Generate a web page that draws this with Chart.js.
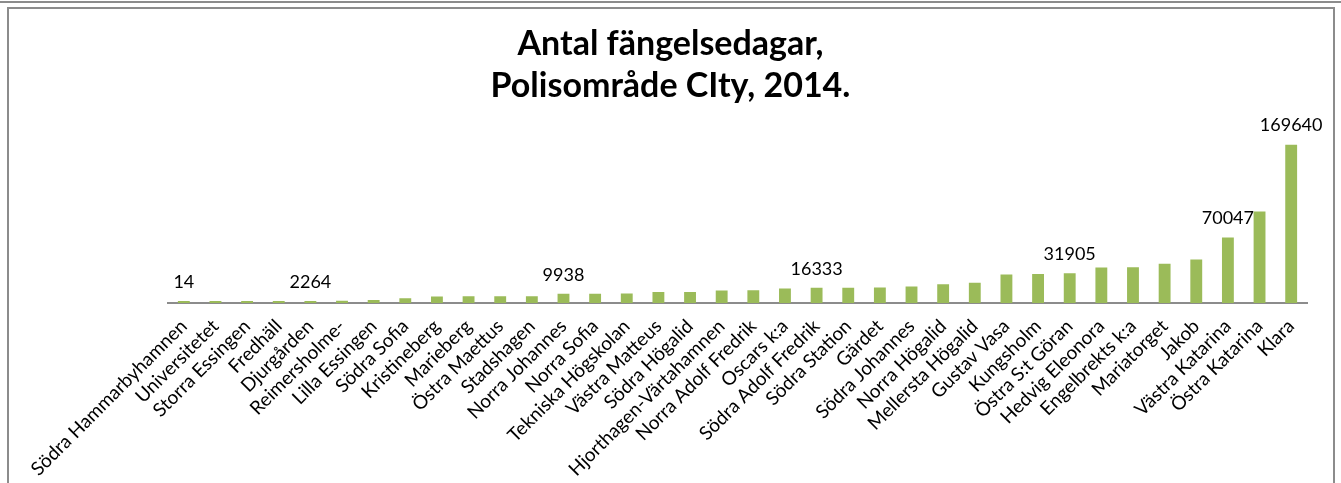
<!DOCTYPE html>
<html>
<head>
<meta charset="utf-8">
<script src="https://cdn.jsdelivr.net/npm/chart.js@4"></script>
<style>
body{margin:0;background:#fff;overflow:hidden;}
#wrap{position:relative;width:1341px;height:483px;}
#c{position:absolute;left:0;top:0;}
.topline{position:absolute;left:0;top:1px;width:1341px;height:2px;background:#8c8c8c;}
.frame{position:absolute;left:7px;top:7px;width:1324px;height:500px;border:2px solid #8c8c8c;}
</style>
</head>
<body>
<div id="wrap">
  <div class="topline"></div>
  <div class="frame"></div>
  <canvas id="c" width="1341" height="483"></canvas>
</div>
<script>
// Antal fängelsedagar per område, Polisområde City 2014
const categories = ['Södra Hammarbyhamnen','Universitetet','Storra Essingen','Fredhäll','Djurgården','Reimersholme-','Lilla Essingen','Södra Sofia','Kristineberg','Marieberg','Östra Maettus','Stadshagen','Norra Johannes','Norra Sofia','Tekniska Högskolan','Västra Matteus','Södra Högalid','Hjorthagen-Värtahamnen','Norra Adolf Fredrik','Oscars k:a','Södra Adolf Fredrik','Södra Station','Gärdet','Södra Johannes','Norra Högalid','Mellersta Högalid','Gustav Vasa','Kungsholm','Östra S:t Göran','Hedvig Eleonora','Engelbrekts k:a','Mariatorget','Jakob','Västra Katarina','Östra Katarina','Klara'];
const values = [14,1200,1600,2000,2264,2300,3300,5000,7000,7100,7100,7200,9938,10000,10100,11800,11900,13500,13600,15500,16333,16400,16500,17800,20000,21800,30500,31000,31905,38000,38300,42000,46500,70047,98000,169640];
// only these bars carry a value label in the original
const labelledBars = [0,4,12,20,28,33,35];
const titleLines = ['Antal fängelsedagar,','Polisområde CIty, 2014.'];

const valueLabels={
  id:'valueLabels',
  afterDatasetsDraw(chart){
    const ctx=chart.ctx;
    const meta=chart.getDatasetMeta(0);
    ctx.save();
    ctx.font='18px Lato';
    ctx.fillStyle='#000';
    ctx.textAlign='center';
    ctx.textBaseline='middle';
    labelledBars.forEach(i=>{
      const bar=meta.data[i];
      ctx.fillText(String(values[i]),bar.x,bar.y-19);
    });
    ctx.restore();
  }
};

new Chart(document.getElementById('c'),{
  type:'bar',
  data:{
    labels:categories,
    datasets:[{
      data:values,
      backgroundColor:'#9bbb59',
      barPercentage:0.75,
      categoryPercentage:0.5,
      minBarLength:2
    }]
  },
  options:{
    responsive:false,
    animation:false,
    devicePixelRatio:1,
    layout:{padding:0},
    plugins:{
      legend:{display:false},
      tooltip:{enabled:false},
      title:{
        display:true,
        text:titleLines,
        color:'#000',
        font:{family:'Lato',size:34,weight:'bold',lineHeight:1.24},
        padding:{top:23,bottom:9}
      }
    },
    scales:{
      x:{
        grid:{display:false,drawTicks:false},
        border:{display:true,color:'#8c8c8c',width:2},
        ticks:{color:'#000',font:{family:'Lato',size:19},minRotation:45,maxRotation:45,autoSkip:false,padding:12},
        afterFit(s){s.height=180;}
      },
      y:{
        min:0,max:200000,
        grid:{display:false},
        border:{display:false},
        ticks:{display:false},
        afterFit(s){s.width=168;}
      },
      yr:{
        type:'linear',position:'right',
        grid:{display:false},
        border:{display:false},
        ticks:{display:false},
        afterFit(s){s.width=34;}
      }
    }
  },
  plugins:[valueLabels]
});
</script>
</body>
</html>
